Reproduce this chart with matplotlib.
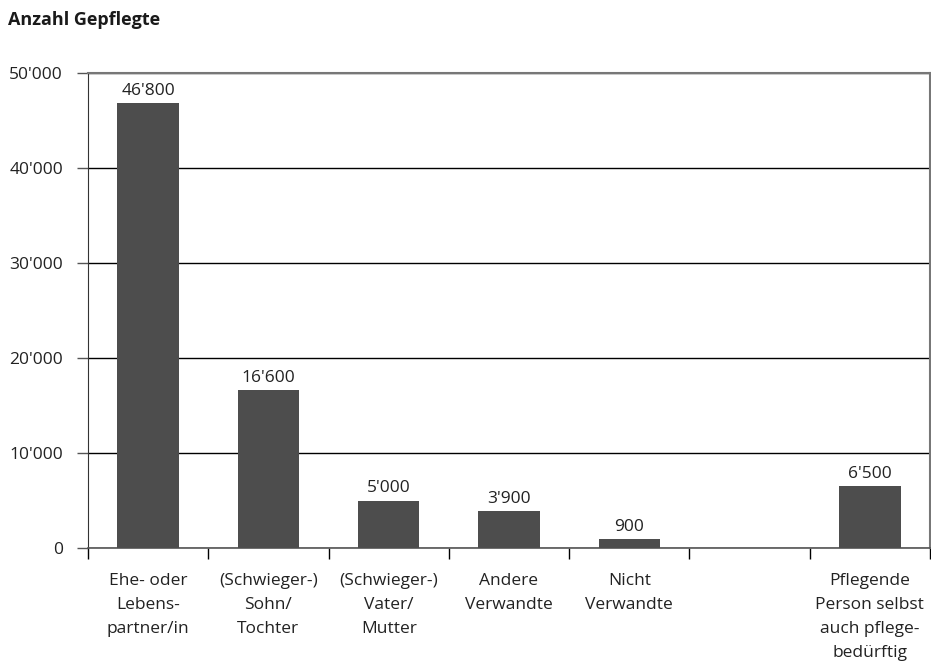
import numpy as np
import matplotlib
matplotlib.use('Agg')
import matplotlib.pyplot as plt

# Daten
kategorien = ['Ehe- oder\nLebens-\npartner/in', '(Schwieger-)\nSohn/\nTochter',
              '(Schwieger-)\nVater/\nMutter', 'Andere\nVerwandte', 'Nicht\nVerwandte',
              '', 'Pflegende\nPerson selbst\nauch pflege-\nbedürftig']
werte = [46800, 16600, 5000, 3900, 900, np.nan, 6500]
y_ticks = [0, 10000, 20000, 30000, 40000, 50000]

def fmt(v):
    return f"{int(v):,}".replace(',', "'")

plt.rcParams['font.family'] = ['Open Sans', 'DejaVu Sans']

fig = plt.figure(figsize=(9.31, 6.68), dpi=100)
ax = fig.add_axes([88/931, 1-548/668, (930-88)/931, (548-73)/668])

x = np.arange(len(kategorien))
ax.bar(x, werte, width=0.51, color='#4d4d4d', zorder=3)
for xi, v in zip(x, werte):
    if not np.isnan(v):
        ax.text(xi, v + 450, fmt(v), ha='center', va='bottom', fontsize=12.5,
                color='#222222')

ax.set_xlim(-0.5, len(kategorien) - 0.5)
ax.set_ylim(0, 50000)
ax.set_yticks(y_ticks)
ax.set_yticklabels([fmt(t) for t in y_ticks], fontsize=12.5, color='#222222')
ax.yaxis.grid(True, color='black', linewidth=1, zorder=0)

# Kategorien-Trennstriche unten
ax.set_xticks(np.arange(-0.5, len(kategorien)))
ax.set_xticklabels([])
ax.tick_params(axis='x', length=8, width=1, color='black', direction='out')
ax.tick_params(axis='y', length=8, width=1, color='#555555', pad=10)
for xi, lab in zip(x, kategorien):
    ax.text(xi, -2600, lab, ha='center', va='top', fontsize=12.5,
            color='#222222', linespacing=1.68)

for s in ['top', 'right']:
    ax.spines[s].set_color('#777777')
    ax.spines[s].set_linewidth(1.5)
ax.spines['left'].set_color('#333333')
ax.spines['bottom'].set_color('#555555')
ax.spines['bottom'].set_linewidth(1.2)

fig.text(8/931, 1-20/668, 'Anzahl Gepflegte', fontsize=13, fontweight='bold',
         ha='left', va='center', color='#1a1a1a')

fig.savefig('out.png', dpi=100)
